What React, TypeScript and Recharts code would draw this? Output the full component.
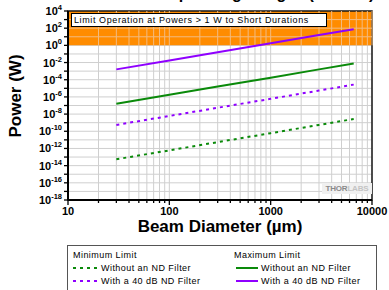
import React from 'react';
import {
  LineChart,
  Line,
  XAxis,
  YAxis,
  CartesianGrid,
  ReferenceArea,
  ReferenceLine,
} from 'recharts';

// beam diameter (µm) and power limits (W)
const diameters = [30, 100, 300, 1000, 3000, 6600];
const maxNoND = [1.6e-7, 1.75e-6, 1.6e-5, 1.75e-4, 1.6e-3, 7.6e-3];
const maxND40 = [1.6e-3, 1.75e-2, 0.16, 1.75, 16, 76];
const minNoND = [5.5e-14, 6e-13, 5.5e-12, 6e-11, 5.5e-10, 2.7e-9];
const minND40 = [5.5e-10, 6e-9, 5.5e-8, 6e-7, 5.5e-6, 2.7e-5];

const xTicks = [
  10, 20, 30, 40, 50, 60, 70, 80, 90,
  100, 200, 300, 400, 500, 600, 700, 800, 900,
  1000, 2000, 3000, 4000, 5000, 6000, 7000, 8000, 9000, 10000,
];
const yExponents = [
  -18, -17, -16, -15, -14, -13, -12, -11, -10, -9, -8, -7, -6, -5, -4, -3, -2, -1, 0, 1, 2, 3, 4,
];
const yTicks = yExponents.map(e => Math.pow(10, e));

const GREEN = '#0a8a0a';
const PURPLE = '#8f00ff';
const ORANGE = '#ff8c00';
const FONT = 'Arial, "Liberation Sans", sans-serif';

const chartData = diameters.map((d, i) => ({
  d,
  maxNoND: maxNoND[i],
  maxND40: maxND40[i],
  minNoND: minNoND[i],
  minND40: minND40[i],
}));

function XTick({ x, y, payload }: any) {
  const v = payload.value as number;
  const e = Math.log10(v);
  const major = Math.abs(e - Math.round(e)) < 1e-6;
  return (
    <g>
      <line x1={x} x2={x} y1={y} y2={y + (major ? 5 : 3)} stroke="#000" strokeWidth={1.3} />
      {major && (
        <text x={x} y={y + 15} textAnchor="middle" fontSize={11} fontWeight="bold" fontFamily={FONT} fill="#000">
          {v}
        </text>
      )}
    </g>
  );
}

function YTick({ x, y, payload }: any) {
  const e = Math.round(Math.log10(payload.value));
  return (
    <g>
      <line x1={x - 4} x2={x} y1={y} y2={y} stroke="#000" strokeWidth={1.3} />
      {e % 2 === 0 && (
        <text x={x - 6} y={y + 4} textAnchor="end" fontSize={11} fontWeight="bold" fontFamily={FONT} fill="#000">
          <tspan>10</tspan>
          <tspan dy={-5} fontSize={7.5}>{e}</tspan>
        </text>
      )}
    </g>
  );
}

const legendText: React.CSSProperties = {
  position: 'absolute',
  fontFamily: FONT,
  fontSize: 9,
  letterSpacing: 0.45,
  color: '#000',
  lineHeight: '10px',
  whiteSpace: 'nowrap',
};

function Sample({ left, top, color, dashed, w = 26 }: { left: number; top: number; color: string; dashed?: boolean; w?: number }) {
  return (
    <svg style={{ position: 'absolute', left, top }} width={w + 2} height={4}>
      <line x1={0} x2={w} y1={2} y2={2} stroke={color} strokeWidth={2} strokeDasharray={dashed ? '3 4' : undefined} />
    </svg>
  );
}

export default function App() {
  return (
    <div style={{ position: 'absolute', left: 0, top: 0, width: 389, height: 290, overflow: 'hidden', background: '#fff' }}>
      <LineChart width={389} height={290} data={chartData} margin={{ top: 11, right: 17, bottom: 60, left: 0 }}>
        <CartesianGrid stroke="#cfcfcf" strokeWidth={1} />
        <ReferenceArea x1={10} x2={10000} y1={1} y2={1e4} fill={ORANGE} fillOpacity={1} stroke="none" />
        {xTicks.map(t => (
          <ReferenceLine key={'vx' + t} segment={[{ x: t, y: 1 }, { x: t, y: 1e4 }]} stroke="#f2bb80" strokeWidth={1} />
        ))}
        {[10, 100, 1000].map(t => (
          <ReferenceLine key={'hy' + t} segment={[{ x: 10, y: t }, { x: 10000, y: t }]} stroke="#f2bb80" strokeWidth={1} />
        ))}
        <ReferenceArea x1={10} x2={10000} y1={1e-18} y2={1e4} fill="none" stroke="#1a1a1a" strokeWidth={1.5} />
        <XAxis
          dataKey="d"
          type="number"
          scale="log"
          domain={[10, 10000]}
          ticks={xTicks}
          interval={0}
          tick={<XTick />}
          tickLine={false}
          tickSize={0}
          tickMargin={0}
          height={30}
          axisLine={{ stroke: '#000', strokeWidth: 2 }}
          allowDataOverflow
        />
        <YAxis
          type="number"
          scale="log"
          domain={[1e-18, 1e4]}
          ticks={yTicks}
          interval={0}
          tick={<YTick />}
          tickLine={false}
          tickSize={0}
          tickMargin={0}
          width={68}
          axisLine={{ stroke: '#000', strokeWidth: 2 }}
          allowDataOverflow
        />
        <Line dataKey="minNoND" stroke={GREEN} strokeWidth={2} strokeDasharray="3 4" dot={false} isAnimationActive={false} />
        <Line dataKey="minND40" stroke={PURPLE} strokeWidth={2} strokeDasharray="3 4" dot={false} isAnimationActive={false} />
        <Line dataKey="maxNoND" stroke={GREEN} strokeWidth={2} dot={false} isAnimationActive={false} />
        <Line dataKey="maxND40" stroke={PURPLE} strokeWidth={2} dot={false} isAnimationActive={false} />
      </LineChart>

      {/* title, cut off by the top edge in the reference */}
      <div style={{ position: 'absolute', left: 0, width: 440, top: -15, textAlign: 'center', fontFamily: FONT, fontWeight: 'bold', fontSize: 16, whiteSpace: 'nowrap' }}>
        Detector CW Operating Ranges (266 nm)
      </div>

      {/* annotation inside the orange band */}
      <div style={{ position: 'absolute', left: 71, top: 13, width: 252, height: 12, background: '#fff', border: '1px solid #000', fontFamily: FONT, fontSize: 9, letterSpacing: 0.6, lineHeight: '12px', paddingLeft: 2, whiteSpace: 'nowrap' }}>
        Limit Operation at Powers &gt; 1 W to Short Durations
      </div>

      {/* axis titles */}
      <div style={{ position: 'absolute', left: 16, top: 96, transform: 'translate(-50%, -50%) rotate(-90deg)', fontFamily: FONT, fontWeight: 'bold', fontSize: 17, whiteSpace: 'nowrap' }}>
        Power (W)
      </div>
      <div style={{ position: 'absolute', left: 220, top: 227, transform: 'translate(-50%, -50%)', fontFamily: FONT, fontWeight: 'bold', fontSize: 17, whiteSpace: 'nowrap' }}>
        Beam Diameter (µm)
      </div>

      {/* watermark */}
      <div style={{ position: 'absolute', left: 322, top: 183, width: 50, height: 11, background: '#f0f0f0', fontFamily: FONT, fontWeight: 'bold', fontSize: 8, lineHeight: '11px', textAlign: 'center', letterSpacing: -0.2 }}>
        <span style={{ color: '#8a8a8a' }}>THOR</span>
        <span style={{ color: '#c4c4c4' }}>LABS</span>
      </div>

      {/* legend */}
      <div style={{ position: 'absolute', left: 67, top: 245, width: 308, height: 60, border: '1px solid #555', background: '#fff' }} />
      <div style={{ ...legendText, left: 73, top: 250 }}>Minimum Limit</div>
      <Sample left={73} top={266} color={GREEN} dashed />
      <div style={{ ...legendText, left: 101, top: 263 }}>Without an ND Filter</div>
      <Sample left={73} top={279} color={PURPLE} dashed />
      <div style={{ ...legendText, left: 101, top: 276 }}>With a 40 dB ND Filter</div>
      <div style={{ ...legendText, left: 234, top: 250 }}>Maximum Limit</div>
      <Sample left={236} top={266} color={GREEN} w={22} />
      <div style={{ ...legendText, left: 261, top: 263 }}>Without an ND Filter</div>
      <Sample left={236} top={279} color={PURPLE} w={22} />
      <div style={{ ...legendText, left: 261, top: 276 }}>With a 40 dB ND Filter</div>
    </div>
  );
}
